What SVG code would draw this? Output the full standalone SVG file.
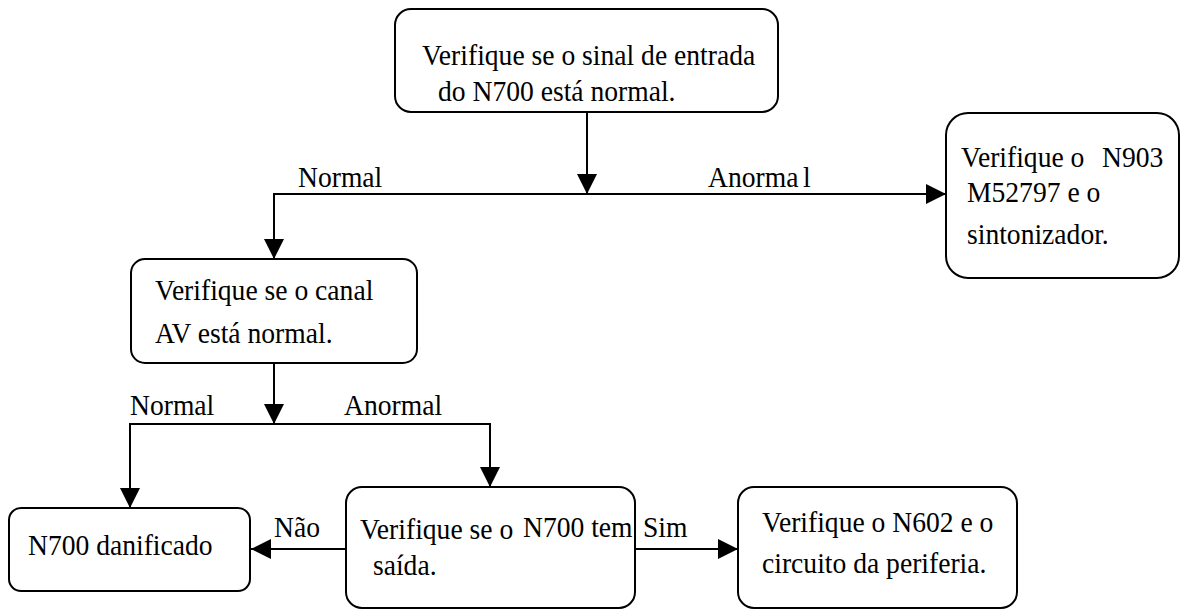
<svg xmlns="http://www.w3.org/2000/svg" width="1185" height="610" viewBox="0 0 1185 610">
  <style>
    .box { fill: #ffffff; stroke: #000000; stroke-width: 2; }
    .wire { fill: none; stroke: #000000; stroke-width: 2; }
    text { font-family: "Liberation Serif", "Times New Roman", serif; font-size: 30px; fill: #000000; }
  </style>
  <defs>
    <marker id="head" markerUnits="userSpaceOnUse" markerWidth="20" markerHeight="20" refX="20" refY="10" orient="auto">
      <path d="M0,0 L20,10 L0,20 Z" fill="#000000"/>
    </marker>
  </defs>

  <rect width="1185" height="610" fill="#ffffff"/>

  <!-- connectors -->
  <g id="connectors">
    <path class="wire" d="M587,112 V194" marker-end="url(#head)"/>
    <path class="wire" d="M274,194 H946" marker-end="url(#head)"/>
    <path class="wire" d="M274,193 V259" marker-end="url(#head)"/>
    <path class="wire" d="M274,363 V424" marker-end="url(#head)"/>
    <path class="wire" d="M129,424 H491"/>
    <path class="wire" d="M130,423 V508" marker-end="url(#head)"/>
    <path class="wire" d="M490,423 V487" marker-end="url(#head)"/>
    <path class="wire" d="M346,549 H251" marker-end="url(#head)"/>
    <path class="wire" d="M635,549 H738" marker-end="url(#head)"/>
  </g>

  <!-- branch labels (glyphs narrowed to 92 %) -->
  <g id="labels">
    <text transform="scale(0.92 1)" x="323.9" y="187">Normal</text>
    <text transform="scale(0.92 1)" x="769.6" y="187">Anorma<tspan dx="5">l</tspan></text>
    <text transform="scale(0.92 1)" x="141.3" y="415">Normal</text>
    <text transform="scale(0.92 1)" x="373.9" y="415">Anormal</text>
    <text transform="scale(0.92 1)" x="297.8" y="537">Não</text>
    <text transform="scale(0.92 1)" x="698.9" y="537">Sim</text>
  </g>

  <g id="node-entrada">
    <rect class="box" x="395" y="9" width="383" height="103" rx="16"/>
    <text transform="scale(0.92 1)" x="458.7" y="65">Verifique se o sinal de entrada</text>
    <text transform="scale(0.92 1)" x="476.1" y="101">do N700 está normal.</text>
  </g>

  <g id="node-n903">
    <rect class="box" x="946" y="113" width="233" height="165" rx="22"/>
    <text transform="scale(0.92 1)" x="1044.6" y="167">Verifique o</text>
    <text transform="scale(0.92 1)" x="1197.8" y="167">N903</text>
    <text transform="scale(0.92 1)" x="1051.1" y="202">M52797 e o</text>
    <text transform="scale(0.92 1)" x="1051.1" y="244">sintonizador.</text>
  </g>

  <g id="node-canal-av">
    <rect class="box" x="131" y="259" width="286" height="104" rx="14"/>
    <text transform="scale(0.92 1)" x="168.5" y="300">Verifique se o canal</text>
    <text transform="scale(0.92 1)" x="168.5" y="343">AV está normal.</text>
  </g>

  <g id="node-danificado">
    <rect class="box" x="9" y="508" width="241" height="83" rx="12"/>
    <text transform="scale(0.92 1)" x="30.4" y="555">N700 danificado</text>
  </g>

  <g id="node-saida">
    <rect class="box" x="346" y="487" width="289" height="121" rx="16"/>
    <text transform="scale(0.92 1)" x="391.3" y="539">Verifique se o</text>
    <text transform="scale(0.92 1)" x="568.5" y="537">N700 tem</text>
    <text transform="scale(0.92 1)" x="405.4" y="575">saída.</text>
  </g>

  <g id="node-n602">
    <rect class="box" x="738" y="487" width="279" height="121" rx="16"/>
    <text transform="scale(0.92 1)" x="828.3" y="532">Verifique o N602 e o</text>
    <text transform="scale(0.92 1)" x="828.3" y="573">circuito da periferia.</text>
  </g>
</svg>
